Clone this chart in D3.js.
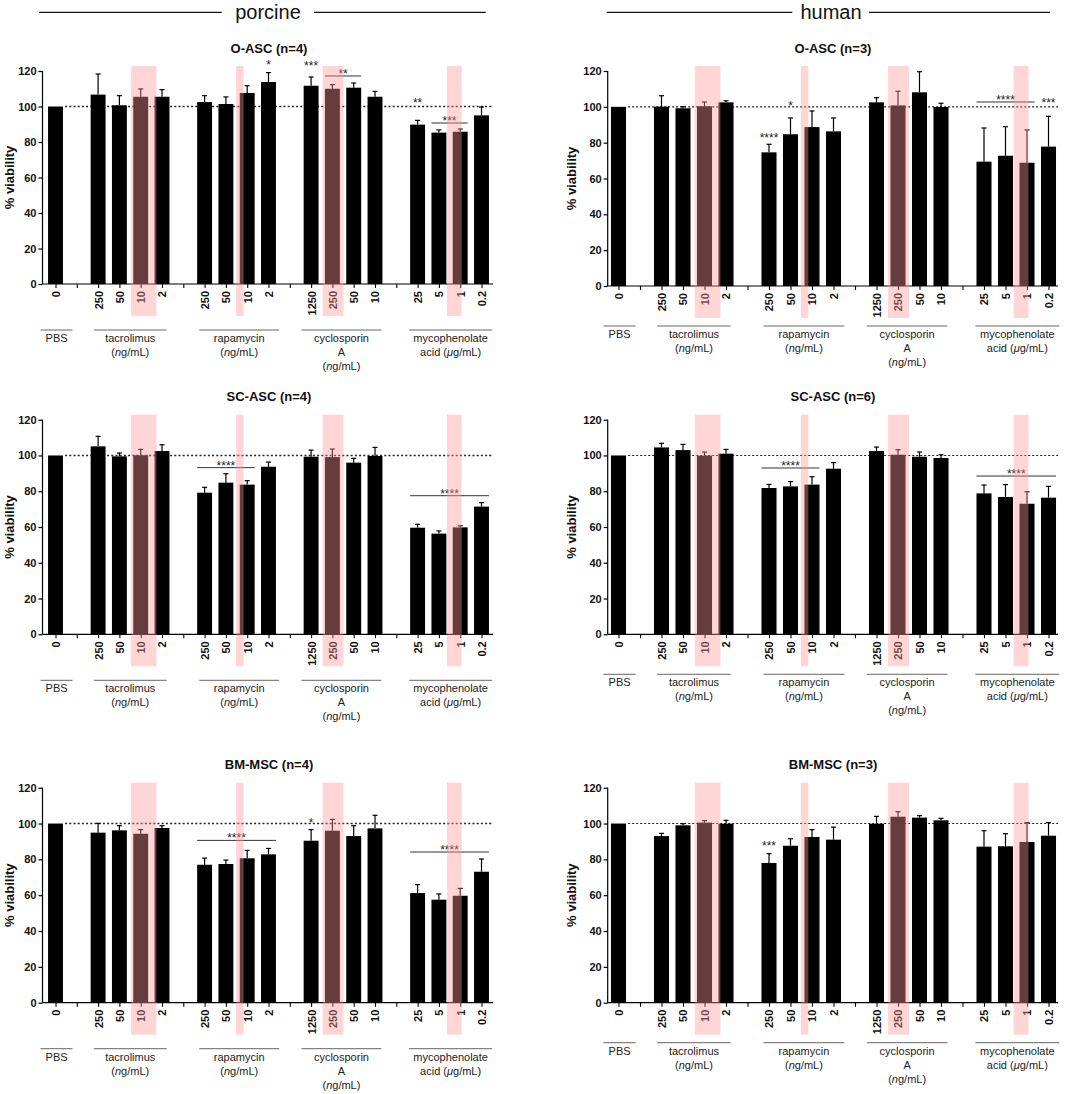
<!DOCTYPE html>
<html><head><meta charset="utf-8">
<script src="https://cdn.jsdelivr.net/npm/d3@7"></script>
<style>
body{margin:0;background:#fff;}
svg{display:block;font-family:"Liberation Sans",Arial,sans-serif;}
</style></head><body>
<svg id="c" width="1084" height="1094"></svg>
<script>
// ---------- DATA ----------
const slotLabels = ["0","","250","50","10","2","","250","50","10","2","","1250","250","50","10","","25","5","1","0.2"];
const barSlots = [0,2,3,4,5,7,8,9,10,12,13,14,15,17,18,19,20];
const groupNames = [["PBS"],["tacrolimus","(_n_g/mL)"],["rapamycin","(_n_g/mL)"],["cyclosporin","A","(_n_g/mL)"],["mycophenolate","acid (_μ_g/mL)"]];
const groupSpans = [[-0.7,0.8],[1.8,5.22],[6.75,10.5],[11.55,15.3],[16.6,20.5]];
const highlightSpans = [[3.55,4.74],[8.48,8.83],[12.54,13.52],[18.38,19.07]];
const yTicks = [0,20,40,60,80,100,120];
const speciesTitles = ["porcine","human"];

const poOasc    = [100,106.7,100.7,105.5,105.5,102.5,101.4,107.6,113.8,111.7,110.0,110.6,105.5,89.8,85.3,85.8,95.0];
const poOascErr = [0,11.6,5.4,4.4,4.0,3.6,4.0,4.1,5.3,4.9,2.3,2.6,3.0,2.4,1.5,1.5,4.7];
const poOascAnn = [{a:10,b:10,v:125.2,t:"*"},{a:12,b:12,v:124.7,t:"***"},{a:13,b:14,v:117.2,t:"**"},{a:17,b:17,v:103.7,t:"**"},{a:18,b:19,v:90.7,t:"***"}];

const huOasc    = [100,100.1,99.2,100.3,102.5,74.6,84.7,88.7,86.3,102.5,100.8,108.1,99.9,69.4,72.7,68.8,77.8];
const huOascErr = [0,6.1,0.9,2.4,0.9,4.5,9.1,9.0,7.5,2.6,7.9,11.5,2.1,18.8,16.2,18.3,16.9];
const huOascAnn = [{a:7,b:7,v:84.3,t:"****"},{a:8,b:8,v:102.3,t:"*"},{a:17,b:19,v:102.7,t:"****"},{a:20,b:20,v:104,t:"***"}];

const poScasc    = [100,105.1,99.5,100.1,102.5,79.2,84.8,83.7,93.7,99.3,99.1,96.0,99.7,59.6,56.3,59.8,71.4];
const poScascErr = [0,5.6,1.9,3.3,3.5,3.0,5.0,2.2,2.6,3.7,4.5,2.4,4.8,1.9,1.5,0.9,2.2];
const poScascAnn = [{a:7,b:9,v:93.2,t:"****"},{a:17,b:20,v:77.5,t:"****"}];

const huScasc    = [100,104.5,103.0,99.9,101.0,81.8,82.7,83.7,92.6,102.5,100.4,99.3,98.6,78.8,76.8,73.0,76.4];
const huScascErr = [0,2.3,3.2,2.0,2.4,2.0,2.7,4.4,3.4,2.2,2.8,2.6,1.8,4.7,6.9,6.7,6.3];
const huScascAnn = [{a:7,b:9,v:93.0,t:"****"},{a:17,b:20,v:88.5,t:"****"}];

const poBmmsc    = [100,94.9,96.2,94.3,97.5,77.0,77.4,80.6,82.8,90.4,96.0,93.0,97.3,61.2,57.5,59.7,73.1];
const poBmmscErr = [0,5.2,2.6,2.3,1.3,3.7,2.2,4.4,3.3,6.2,6.3,5.8,7.3,4.7,3.2,4.1,7.1];
const poBmmscAnn = [{a:12,b:12,v:102.0,t:"*"},{a:7,b:10,v:90.6,t:"****"},{a:17,b:20,v:84.1,t:"****"}];

const huBmmsc    = [100,93.0,99.0,100.5,99.9,78.0,87.6,92.5,91.0,99.9,103.8,103.3,101.8,87.1,87.3,89.7,93.2];
const huBmmscErr = [0,1.5,0.9,1.1,1.9,5.2,3.9,4.1,7.0,4.1,2.8,1.1,1.1,8.9,7.0,10.8,7.3];
const huBmmscAnn = [{a:7,b:7,v:88.9,t:"***"}];

// ---------- LAYOUT ----------
const svg = d3.select("#c");
const sides = {
  L:{range:[55.5,481.5], ax0:42.5, ax1:493, titleX:269, ylabX:9.5, groupOff:46, dot:{w:1.6,d:"2,2.2"}},
  R:{range:[618.5,1048.5], ax0:607.7, ax1:1058, titleX:833, ylabX:571, groupOff:40, dot:{w:1.1,d:"2,2"}}
};
const panels = [
  {side:"L", title:"O-ASC (n=4)",   m:poOasc,  e:poOascErr,  ann:poOascAnn,  y0:284,   y120:71,    ty:48},
  {side:"R", title:"O-ASC  (n=3)",  m:huOasc,  e:huOascErr,  ann:huOascAnn,  y0:286,   y120:71,    ty:48.3},
  {side:"L", title:"SC-ASC (n=4)",  m:poScasc, e:poScascErr, ann:poScascAnn, y0:634.3, y120:419.7, ty:396},
  {side:"R", title:"SC-ASC (n=6)",  m:huScasc, e:huScascErr, ann:huScascAnn, y0:634.3, y120:419.7, ty:396},
  {side:"L", title:"BM-MSC  (n=4)", m:poBmmsc, e:poBmmscErr, ann:poBmmscAnn, y0:1002.7,y120:787.7, ty:764},
  {side:"R", title:"BM-MSC  (n=3)", m:huBmmsc, e:huBmmscErr, ann:huBmmscAnn, y0:1002.7,y120:787.7, ty:764}
];

function richText(sel, str){
  str.split("_").forEach((seg,i)=>{
    if(!seg) return;
    sel.append("tspan").text(seg).style("font-style", i%2 ? "italic" : "normal");
  });
}

// species headers
[{t:speciesTitles[0], cx:268, l:[39,221.7], r:[314,485.7]},
 {t:speciesTitles[1], cx:831, l:[606.7,792.3], r:[869,1050]}].forEach(h=>{
  svg.append("text").attr("x",h.cx).attr("y",18.5).attr("text-anchor","middle")
    .style("font-size","20px").attr("fill","#111").text(h.t);
  [h.l,h.r].forEach(s=>svg.append("line").attr("x1",s[0]).attr("x2",s[1]).attr("y1",12.3).attr("y2",12.3)
    .attr("stroke","#111").attr("stroke-width",1.3));
});

panels.forEach(p=>{
  const S = sides[p.side];
  const g = svg.append("g");
  const x = d3.scaleLinear().domain([0,20]).range(S.range);
  const y = d3.scaleLinear().domain([0,120]).range([p.y0,p.y120]);
  const bw = (x(1)-x(0))*0.7;

  // title
  g.append("text").attr("x",S.titleX).attr("y",p.ty+4.6).attr("text-anchor","middle")
    .style("font-size","13px").style("font-weight","bold").attr("fill","#111").text(p.title);

  // y label
  g.append("text").attr("transform",`translate(${S.ylabX},${(p.y0+p.y120)/2}) rotate(-90)`)
    .attr("text-anchor","middle").attr("dy","0.35em")
    .style("font-size","13px").style("font-weight","bold").attr("fill","#111").text("% viability");

  // dotted reference line
  g.append("line").attr("x1",x(0.45)).attr("x2",S.ax1).attr("y1",y(100)).attr("y2",y(100))
    .attr("stroke","#222").attr("stroke-width",S.dot.w).attr("stroke-dasharray",S.dot.d);

  // error bars
  const eg = g.append("g").attr("stroke","#000").attr("stroke-width",1.2);
  p.m.forEach((v,i)=>{
    if(!p.e[i]) return;
    const cx = x(barSlots[i]);
    eg.append("line").attr("x1",cx).attr("x2",cx).attr("y1",y(v)).attr("y2",y(v+p.e[i]));
    eg.append("line").attr("x1",cx-2.5).attr("x2",cx+2.5).attr("y1",y(v+p.e[i])).attr("y2",y(v+p.e[i]));
  });

  // bars
  g.append("g").selectAll("rect").data(p.m).join("rect")
    .attr("x",(d,i)=>x(barSlots[i])-bw/2).attr("width",bw)
    .attr("y",d=>y(d)).attr("height",d=>y(0)-y(d))
    .attr("fill","#000");

  // y axis
  const ya = g.append("g").attr("transform",`translate(${S.ax0},0)`)
    .call(d3.axisLeft(y).tickValues(yTicks).tickSize(4).tickSizeOuter(0).tickPadding(2));
  ya.select(".domain").remove();
  ya.append("line").attr("x1",0).attr("x2",0).attr("y1",y(0)).attr("y2",y(120)).attr("stroke","#000").attr("stroke-width",1.2);
  ya.selectAll(".tick line").attr("stroke","#000").attr("stroke-width",1.2);
  ya.selectAll("text").style("font-size","11px").style("font-weight","bold").attr("fill","#111")
    .style("font-family","'Liberation Sans',Arial,sans-serif");

  // x axis
  const xa = g.append("g").attr("transform",`translate(0,${y(0)})`)
    .call(d3.axisBottom(x).tickValues(d3.range(21)).tickSize(4).tickSizeOuter(0).tickFormat(i=>slotLabels[i]));
  xa.select(".domain").remove();
  xa.append("line").attr("x1",S.ax0).attr("x2",S.ax1).attr("y1",0).attr("y2",0).attr("stroke","#000").attr("stroke-width",1.2);
  xa.selectAll(".tick line").attr("stroke","#000").attr("stroke-width",1.1);
  xa.selectAll("text").attr("y",0).attr("x",-7).attr("dy","0.36em").attr("transform","rotate(-90)")
    .style("text-anchor","end").style("font-size","11px").style("font-weight","bold").attr("fill","#111")
    .style("font-family","'Liberation Sans',Arial,sans-serif");

  // group labels
  groupSpans.forEach((s,gi)=>{
    const ly = y(0)+S.groupOff;
    g.append("line").attr("x1",x(s[0])).attr("x2",x(s[1])).attr("y1",ly).attr("y2",ly)
      .attr("stroke","#666").attr("stroke-width",1);
    groupNames[gi].forEach((ln,li)=>{
      const t = g.append("text").attr("x",(x(s[0])+x(s[1]))/2).attr("y",ly+12+li*14)
        .attr("text-anchor","middle").style("font-size","11px").attr("fill","#222");
      richText(t,ln);
    });
  });

  // significance annotations
  p.ann.forEach(a=>{
    const cx = (x(a.a)+x(a.b))/2;
    if(a.a===a.b){
      g.append("text").attr("x",cx).attr("y",y(a.v)).attr("dy","0.58em").attr("text-anchor","middle")
        .style("font-size","12px").attr("fill","#222").text(a.t);
    } else {
      g.append("line").attr("x1",x(a.a)-bw/2).attr("x2",x(a.b)+bw/2).attr("y1",y(a.v)).attr("y2",y(a.v))
        .attr("stroke","#333").attr("stroke-width",1);
      g.append("text").attr("x",cx).attr("y",y(a.v)-5).attr("dy","0.58em").attr("text-anchor","middle")
        .style("font-size","12px").attr("fill","#222").text(a.t);
    }
  });

  // pink highlight overlays
  highlightSpans.forEach(s=>{
    g.append("rect").attr("x",x(s[0])).attr("width",x(s[1])-x(s[0]))
      .attr("y",y(120)-5).attr("height",(y(0)+32)-(y(120)-5))
      .attr("fill","rgb(255,150,150)").attr("fill-opacity",0.4);
  });
});
</script>
</body></html>
